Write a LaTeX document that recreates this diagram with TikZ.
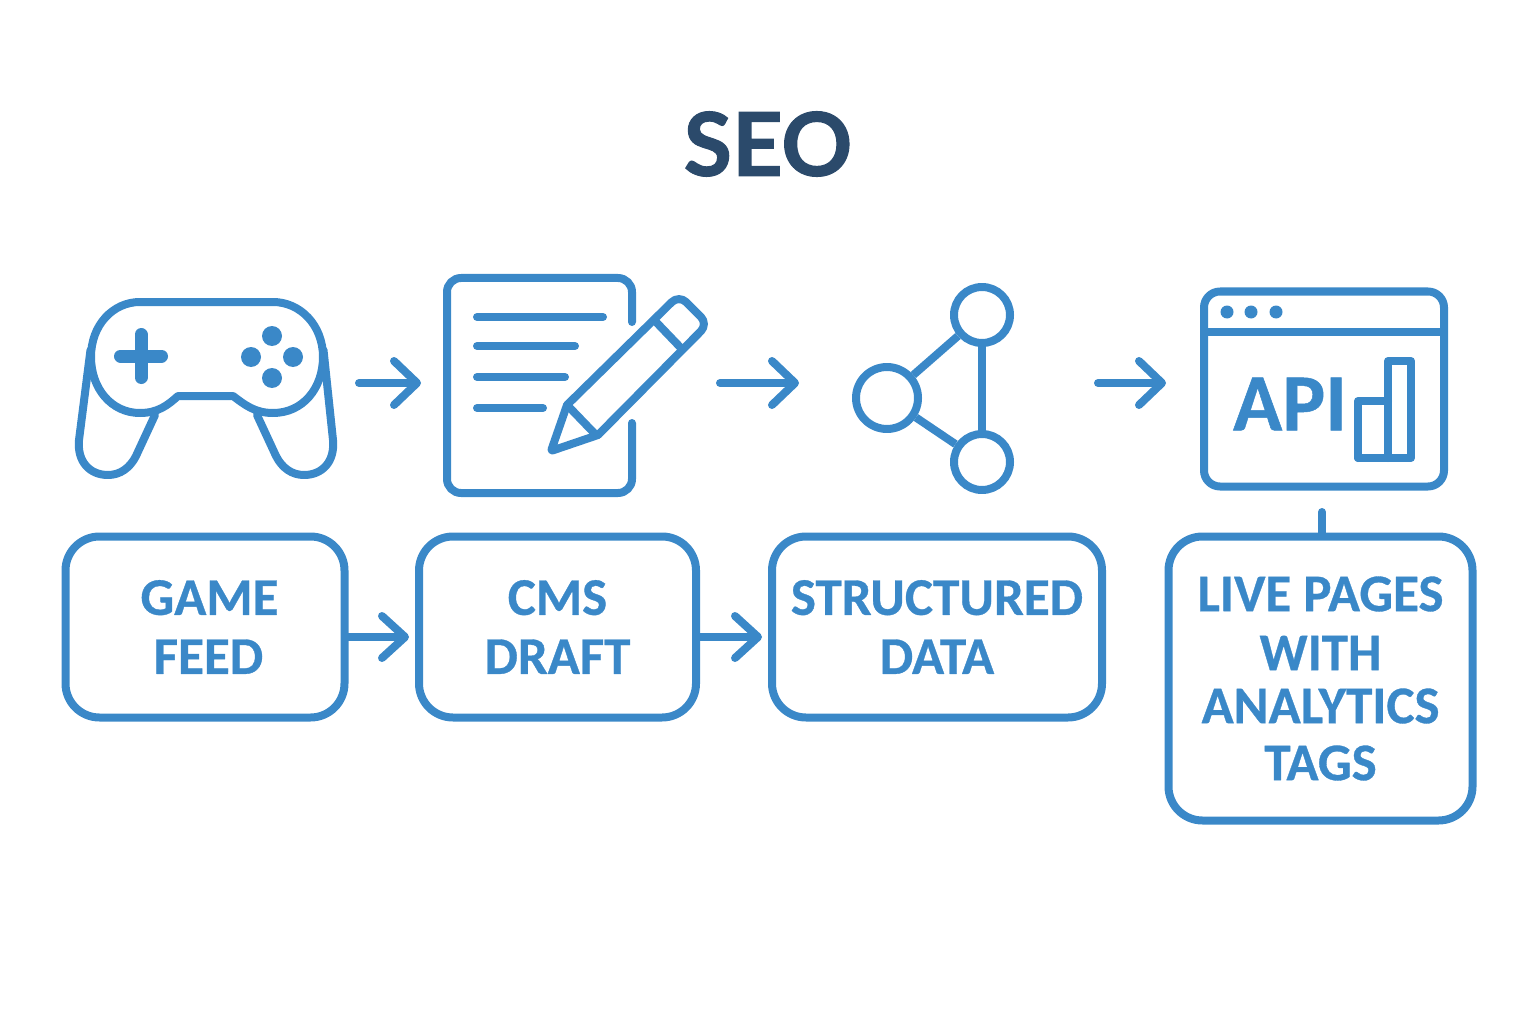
\documentclass[tikz,border=0pt]{standalone}
\usepackage{fontspec}
\setmainfont[BoldFeatures={FakeBold=1.2}]{Lato}
\newfontfamily\boxfont[BoldFeatures={FakeBold=0.6}]{Carlito}
\usetikzlibrary{arrows.meta}
\definecolor{iconblue}{HTML}{3A88C8}
\definecolor{titleblue}{HTML}{2B4A6B}
\tikzset{
    iconline/.style = {draw=iconblue,line width=8pt,line cap=round,line join=round},
    textline/.style = {iconline,line width=8pt},
    padline/.style = {iconline,line width=13pt},
    dot/.style = {circle,fill=iconblue,inner sep=0pt,minimum size=#1},
    hub/.style = {circle,iconline,inner sep=0pt,minimum size=#1},
    flowbox/.style = {rectangle,iconline,rounded corners=34pt,inner sep=0pt,align=center,text=iconblue,
        font=\boxfont\fontsize{53pt}{59pt}\bfseries\selectfont},
    browserbox/.style = {rectangle,iconline,rounded corners=16pt,inner sep=0pt,minimum width=240pt,minimum height=195pt},
    apitext/.style = {inner sep=0pt,text=iconblue,font=\boxfont\fontsize{81pt}{81pt}\bfseries\selectfont},
    titletext/.style = {inner sep=0pt,text=titleblue,font=\fontsize{88pt}{88pt}\bfseries\selectfont},
    edgen/.style = {iconline,-{Straight Barb[length=23pt,width=44pt,round]}},
    edgeb/.style = {iconline,-{Straight Barb[length=23pt,width=42pt,round]},shorten >=6pt},
}

\begin{document}
\begin{tikzpicture}[x=1pt,y=-1pt]
\useasboundingbox (0,0) rectangle (1536,1024);
\node[titletext] at (768,144) (title) {SEO};
% gamepad
\draw[iconline] (178,396) -- (233,396) .. controls (245,405) and (255,413) .. (273,413)
    .. controls (303,413) and (323,388) .. (323,357) .. controls (323,325) and (300,302) .. (273,302)
    -- (140,302) .. controls (113,302) and (91,325) .. (91,357) .. controls (91,388) and (111,413) .. (140,413)
    .. controls (158,413) and (168,405) .. (178,396) -- cycle;
\draw[iconline] (90.5,350) -- (79,440) .. controls (77,462) and (90,475) .. (108,475)
    .. controls (120,475) and (130,468) .. (136,456) -- (155,415);
\draw[iconline] (323.5,350) -- (333,440) .. controls (335,462) and (322,475) .. (304,475)
    .. controls (292,475) and (282,468) .. (276,456) -- (257,415);
\draw[padline] (120.5,356) -- (161.5,356);
\draw[padline] (141,334.5) -- (141,377.5);
\node[dot=20pt] at (272,336) (btna) {};
\node[dot=20pt] at (251,357) (btnb) {};
\node[dot=20pt] at (293,357) (btnc) {};
\node[dot=20pt] at (272,378) (btnd) {};
% document and pencil
\draw[iconline,rounded corners=14pt] (632,322) -- (632,278) -- (447,278) -- (447,493) -- (632,493) -- (632,423);
\draw[textline] (477,317) -- (603,317);
\draw[textline] (477,346) -- (575,346);
\draw[textline] (477,377) -- (565,377);
\draw[textline] (477,408) -- (543,408);
\draw[iconline,rounded corners=10pt] (567,405) -- (679,295) -- (708,324) -- (598,435);
\draw[iconline,rounded corners=2pt] (567,405) -- (551,451) -- (598,435);
\draw[iconline] (657,323) -- (680,347);
\draw[iconline] (570,408) -- (596,435);
% graph
\node[hub=56pt] at (982,315) (hubt) {};
\node[hub=62pt] at (887,398) (hubl) {};
\node[hub=56pt] at (982,462) (hubb) {};
\draw[iconline,line cap=butt] (hubl) -- (hubt);
\draw[iconline,line cap=butt] (hubl) -- (hubb);
\draw[iconline,line cap=butt] (hubt) -- (hubb);
% browser
\node[browserbox] at (1324,389) (browser) {};
\draw[iconline,line cap=butt] (browser.west |- 0,332) -- (browser.east |- 0,332);
\node[dot=13pt] at (1227,312) (wina) {};
\node[dot=13pt] at (1251,312) (winb) {};
\node[dot=13pt] at (1276,312) (winc) {};
\node[apitext] at (1290,404) (api) {API};
\draw[iconline] (1358,458) -- (1358,401) -- (1388,401);
\draw[iconline] (1358,458) -- (1411,458) -- (1411,361) -- (1388,361) -- (1388,458);
% boxes
\node[flowbox,minimum width=279pt,minimum height=181pt] at (205,627) (feed) {\hspace*{9pt}GAME\\\hspace*{7pt}FEED};
\node[flowbox,minimum width=277pt,minimum height=181pt] at (557.5,627) (draft) {CMS\\DRAFT};
\node[flowbox,minimum width=330pt,minimum height=181pt] at (937,627) (data) {STRUCTURED\\DATA};
\node[flowbox,minimum width=304pt,minimum height=284pt] at (1320.5,678.5) (pages) {LIVE PAGES\\WITH\\[-6pt]ANALYTICS\\[-2pt]TAGS};
% arrows
\coordinate (ga) at (359,383);
\coordinate (gb) at (421,383);
\coordinate (da) at (720,383);
\coordinate (db) at (799,383);
\coordinate (ha) at (1098,383);
\coordinate (hb) at (1166,383);
\coordinate (stub) at (1322,512);
\draw[edgen] (ga) -- (gb);
\draw[edgen] (da) -- (db);
\draw[edgen] (ha) -- (hb);
\draw[edgeb] ([yshift=-10pt]feed.east) -- ([yshift=-10pt]draft.west);
\draw[edgeb] ([yshift=-10pt]draft.east) -- ([yshift=-10pt]data.west);
\draw[iconline] (stub) -- (stub |- pages.north);
\end{tikzpicture}
\end{document}
